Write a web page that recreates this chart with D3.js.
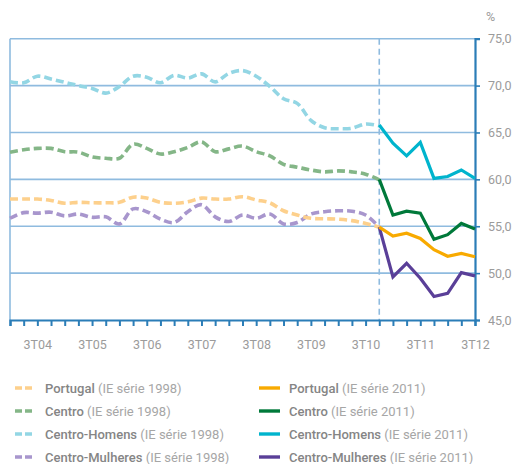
<!DOCTYPE html>
<html>
<head>
<meta charset="utf-8">
<script src="https://cdn.jsdelivr.net/npm/d3@7"></script>
<style>
  html, body { margin: 0; padding: 0; background: #fff; }
  svg { display: block; font-family: Roboto, "Open Sans", sans-serif; }
</style>
</head>
<body>
<svg id="chart" width="515" height="464"></svg>
<script>
// ---------- DATA ----------
const quarters = [
  "1T04","2T04","3T04","4T04","1T05","2T05","3T05","4T05",
  "1T06","2T06","3T06","4T06","1T07","2T07","3T07","4T07",
  "1T08","2T08","3T08","4T08","1T09","2T09","3T09","4T09",
  "1T10","2T10","3T10","4T10","1T11","2T11","3T11","4T11",
  "1T12","2T12","3T12"
];
const quarters1998 = quarters.slice(0, 28);   // 1T04 .. 4T10
const quarters2011 = quarters.slice(27);      // 4T10 .. 3T12

const portugal1998 = [57.9,57.9,57.9,57.75,57.45,57.55,57.5,57.5,57.55,58.1,58.0,57.55,57.45,57.6,
                      58.0,57.9,57.9,58.15,57.8,57.5,56.65,56.2,55.85,55.8,55.75,55.6,55.3,54.9];
const centro1998   = [62.9,63.15,63.3,63.3,62.95,62.9,62.4,62.25,62.25,63.75,63.3,62.7,62.95,63.4,
                      64.0,62.95,63.25,63.55,62.95,62.5,61.6,61.3,61.0,60.8,60.9,60.8,60.55,59.95];
const homens1998   = [70.4,70.3,71.0,70.7,70.35,70.0,69.7,69.2,69.9,71.0,70.9,70.3,71.1,70.8,
                      71.25,70.4,71.3,71.6,71.0,69.9,68.6,68.1,66.3,65.5,65.4,65.45,65.9,65.7];
const mulheres1998 = [55.85,56.45,56.4,56.5,56.1,56.3,55.95,56.0,55.25,56.85,56.55,55.75,55.4,56.55,
                      57.3,56.0,55.5,56.2,55.85,56.3,55.25,55.4,56.3,56.55,56.65,56.6,56.2,54.9];

const portugal2011 = [54.9,53.95,54.25,53.7,52.5,51.8,52.1,51.75];
const centro2011   = [60.0,56.2,56.6,56.4,53.6,54.1,55.3,54.7];
const homens2011   = [65.8,63.85,62.5,63.95,60.1,60.3,61.0,60.1];
const mulheres2011 = [54.9,49.6,51.05,49.45,47.5,47.85,50.05,49.7];

const yTicks = [45, 50, 55, 60, 65, 70, 75];
const xLabelQuarters = ["3T04","3T05","3T06","3T07","3T08","3T09","3T10","3T11","3T12"];
const breakQuarter = "4T10";

const seriesNames = ["Portugal", "Centro", "Centro-Homens", "Centro-Mulheres"];
const colors1998 = ["#fdd08c", "#84b687", "#93d6e4", "#a896cd"];
const colors2011 = ["#f8aa00", "#00793a", "#00b4cd", "#5a3f98"];
const legendSuffix1998 = " (IE série 1998)";
const legendSuffix2011 = " (IE série 2011)";

// ---------- LAYOUT ----------
const svg = d3.select("#chart");
const plotLeft = 10, plotRight = 475, plotTop = 38.7, plotBottom = 320;
const gridColor = "#8fbbdf";
const axisColor = "#2b7db7";
const textGray = "#9b9b9b";

const x = d3.scalePoint().domain(quarters).range([plotLeft, plotRight]);
const y = d3.scaleLinear().domain([45, 75]).range([plotBottom, plotTop]);

// gridlines (excluding bottom)
svg.append("g").selectAll("line")
  .data(yTicks.filter(d => d > 45))
  .join("line")
  .attr("x1", plotLeft).attr("x2", plotRight)
  .attr("y1", d => y(d)).attr("y2", d => y(d))
  .attr("stroke", gridColor).attr("stroke-width", 1.6);

// left border
svg.append("line")
  .attr("x1", plotLeft).attr("x2", plotLeft).attr("y1", plotTop).attr("y2", plotBottom)
  .attr("stroke", gridColor).attr("stroke-width", 1.6);

// break line
svg.append("line")
  .attr("x1", x(breakQuarter)).attr("x2", x(breakQuarter))
  .attr("y1", plotTop).attr("y2", plotBottom)
  .attr("stroke", gridColor).attr("stroke-width", 1.6)
  .attr("stroke-dasharray", "6,4");

// bottom axis
const xAxis = d3.axisBottom(x)
  .tickValues(quarters)
  .tickSize(6)
  .tickFormat(d => xLabelQuarters.includes(d) ? d : "");
const gx = svg.append("g").attr("transform", `translate(0,${plotBottom})`).call(xAxis);
gx.select(".domain").attr("stroke", axisColor).attr("stroke-width", 2.2);
gx.selectAll(".tick line").attr("stroke", axisColor).attr("stroke-width", 2);
gx.selectAll(".tick text")
  .attr("y", 29).attr("dy", 0)
  .attr("fill", textGray)
  .attr("font-size", 12.5)
  .attr("font-family", "Roboto, sans-serif");

// right axis
const yAxis = d3.axisRight(y)
  .tickValues(yTicks)
  .tickSize(5)
  .tickPadding(8)
  .tickFormat(d => d3.format(".1f")(d).replace(".", ","));
const gy = svg.append("g").attr("transform", `translate(${plotRight},0)`).call(yAxis);
gy.select(".domain").attr("stroke", axisColor).attr("stroke-width", 2.2);
gy.selectAll(".tick line").attr("stroke", axisColor).attr("stroke-width", 1.6);
gy.selectAll(".tick text")
  .attr("fill", textGray)
  .attr("font-size", 12.5)
  .attr("font-family", "Roboto, sans-serif");

// % unit
svg.append("text")
  .attr("x", 486).attr("y", 21)
  .attr("fill", textGray).attr("font-size", 12.5)
  .text("%");

// ---------- LINES ----------
const data1998 = [portugal1998, centro1998, homens1998, mulheres1998];
const data2011 = [portugal2011, centro2011, homens2011, mulheres2011];

const line1998 = d3.line()
  .x((d, i) => x(quarters1998[i]))
  .y(d => y(d))
  .curve(d3.curveCatmullRom.alpha(0.5));
const line2011 = d3.line()
  .x((d, i) => x(quarters2011[i]))
  .y(d => y(d));

[3, 0, 1, 2].forEach(k => {
  svg.append("path")
    .attr("d", line1998(data1998[k]))
    .attr("fill", "none")
    .attr("stroke", colors1998[k])
    .attr("stroke-width", 3.6)
    .attr("stroke-dasharray", "8,4");
});
[3, 1, 2, 0].forEach(k => {
  svg.append("path")
    .attr("d", line2011(data2011[k]))
    .attr("fill", "none")
    .attr("stroke", colors2011[k])
    .attr("stroke-width", 3.2)
    .attr("stroke-linejoin", "miter");
});

// ---------- LEGEND ----------
const legendY0 = 388.5, legendDy = 23;
const legend = svg.append("g");
seriesNames.forEach((name, k) => {
  const yy = legendY0 + k * legendDy;
  legend.append("line")
    .attr("x1", 15).attr("x2", 32).attr("y1", yy - 0.5).attr("y2", yy - 0.5)
    .attr("stroke", colors1998[k]).attr("stroke-width", 3.4)
    .attr("stroke-dasharray", "7,3");
  const t1 = legend.append("text")
    .attr("x", 45).attr("y", yy + 4.5)
    .attr("font-size", 13);
  t1.append("tspan").attr("fill", "#858585").attr("font-weight", 500).text(name);
  t1.append("tspan").attr("fill", "#a6a6a6").text(legendSuffix1998);

  legend.append("line")
    .attr("x1", 259).attr("x2", 280).attr("y1", yy - 0.5).attr("y2", yy - 0.5)
    .attr("stroke", colors2011[k]).attr("stroke-width", 3.4);
  const t2 = legend.append("text")
    .attr("x", 289).attr("y", yy + 4.5)
    .attr("font-size", 13);
  t2.append("tspan").attr("fill", "#858585").attr("font-weight", 500).text(name);
  t2.append("tspan").attr("fill", "#a6a6a6").text(legendSuffix2011);
});
</script>
</body>
</html>
